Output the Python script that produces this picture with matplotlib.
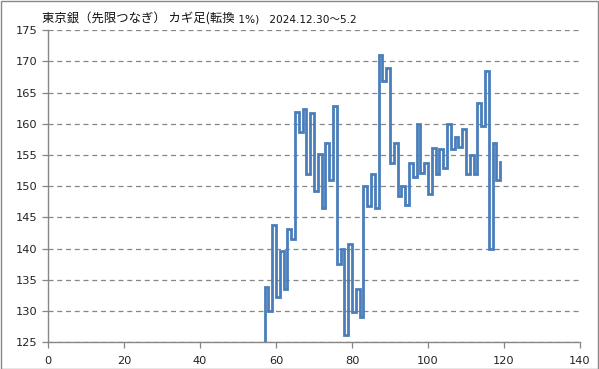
import matplotlib
matplotlib.use("Agg")
import matplotlib.pyplot as plt
from matplotlib.patches import Rectangle

plt.rcParams['font.family'] = ['Noto Sans CJK JP', 'DejaVu Sans']

title_main = "東京銀（先限つなぎ） カギ足(転換"
title_sub = " 1%)   2024.12.30～5.2"

start_x = 57
start_value = 124.0
turn_values = [
    133.9, 130.0, 143.8, 132.3, 139.6, 133.5, 143.1, 141.5, 161.9, 158.7,
    162.4, 151.9, 161.75, 149.2, 155.2, 146.5, 156.9, 151.0, 162.9, 137.5,
    140.0, 126.1, 140.8, 129.9, 133.5, 129.0, 150.0, 146.9, 151.9, 146.5,
    171.1, 166.9, 169.0, 153.7, 156.9, 148.5, 150.0, 147.0, 153.8, 151.5,
    160.0, 152.1, 153.8, 148.8, 156.1, 151.9, 156.0, 152.9, 160.0, 156.0,
    157.9, 156.3, 159.2, 152.0, 155.0, 152.0, 163.3, 159.6, 168.5, 140.0,
    157.0, 151.0, 153.9,
]
x_ticks = [0, 20, 40, 60, 80, 100, 120, 140]
y_ticks = [125, 130, 135, 140, 145, 150, 155, 160, 165, 170, 175]

# build kagi step path
xs = [start_x]
ys = [start_value]
for i, v in enumerate(turn_values):
    x = start_x + i
    if i > 0:
        xs.append(x)
        ys.append(turn_values[i - 1])
    xs.append(x)
    ys.append(v)

W, H = 599, 369
fig = plt.figure(figsize=(W / 100, H / 100), dpi=100)
left, right, top, bottom = 48, 580, 30.2, 342.3
ax = fig.add_axes([left / W, 1 - bottom / H, (right - left) / W, (bottom - top) / H])

ax.plot(xs, ys, color='#4A7EBB', lw=2.0, solid_joinstyle='miter', clip_on=True)

ax.set_xlim(0, 140)
ax.set_ylim(125, 175)
ax.set_xticks(x_ticks)
ax.set_yticks(y_ticks)
ax.yaxis.grid(True, color='#868686', linestyle=(0, (4, 3)), lw=0.9)
ax.xaxis.grid(False)
ax.set_axisbelow(True)
for s in ['top', 'right']:
    ax.spines[s].set_visible(False)
for s in ['left', 'bottom']:
    ax.spines[s].set_color('#868686')
    ax.spines[s].set_linewidth(1.0)
ax.tick_params(axis='both', colors='#868686', length=4, width=0.9, labelcolor='#222222',
               labelsize=8.2, direction='out')
ax.tick_params(axis='x', pad=6)
for lab in ax.get_xticklabels() + ax.get_yticklabels():
    lab.set_family(['DejaVu Sans'])

t1 = fig.text(42 / W, 1 - 19 / H, title_main, fontsize=8.9, va='center', ha='left',
              color='#111111', family=['Noto Sans CJK JP', 'DejaVu Sans'])
fig.canvas.draw()
bb = t1.get_window_extent()
fig.text(bb.x1 / W, 1 - 19 / H, title_sub, fontsize=7.6, va='center', ha='left',
         color='#111111', family=['DejaVu Sans', 'Noto Sans CJK JP'])

fig.patches.append(Rectangle((0.5 / W, 0.5 / H), (W - 1.5) / W, (H - 1.5) / H,
                             transform=fig.transFigure, fill=False,
                             edgecolor='#888888', lw=1.0))

fig.savefig('out.png', dpi=100)
